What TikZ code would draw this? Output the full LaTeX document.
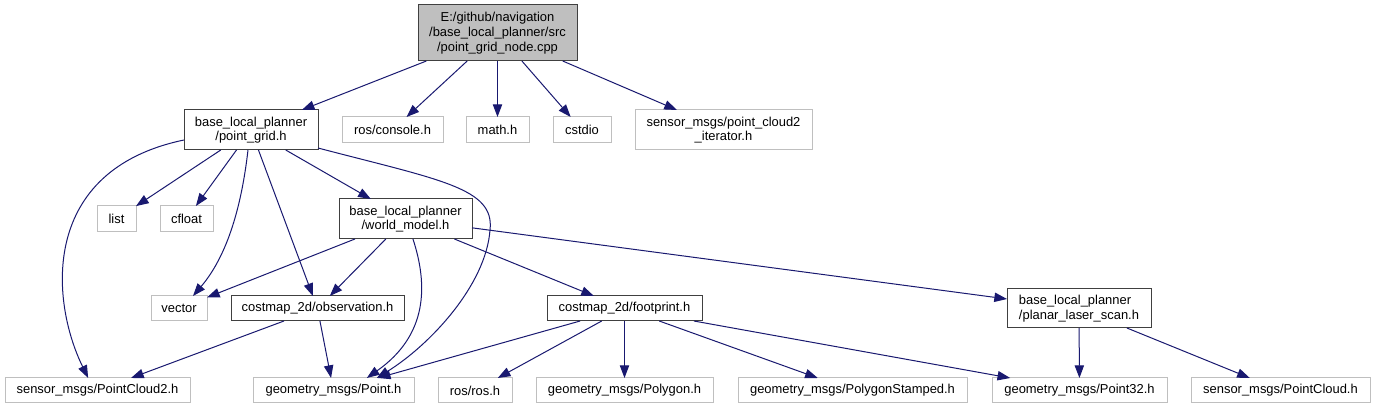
\documentclass[tikz,border=0pt]{standalone}
\usepackage{fontspec}
\setmainfont{Liberation Sans}
\usetikzlibrary{arrows.meta}
\definecolor{edgec}{HTML}{191970}
\definecolor{grayb}{HTML}{BFBFBF}
\definecolor{darkb}{HTML}{404040}
\definecolor{rootf}{HTML}{BFBFBF}
\begin{document}
\begin{tikzpicture}[x=0.75pt,y=-0.75pt,
 every node/.style={font=\fontsize{9.7}{11}\selectfont, inner sep=0pt, outer sep=0pt, align=center},
 wh/.style 2 args={minimum width=#1*0.75pt, minimum height=#2*0.75pt},
 ext/.style={draw=grayb, line width=0.75pt, fill=white},
 doc/.style={draw=darkb, line width=0.75pt, fill=white},
 rootbox/.style={draw=darkb, fill=rootf, line width=0.75pt},
 dep/.style={draw=edgec, line width=0.75pt, -{Triangle[length=9.5pt,width=7pt]}},
]
\useasboundingbox[fill=white] (0,0) rectangle (1375,409);

% nodes
\node[rootbox, wh={159}{56}] (root) at (497.5,33) {E:/github/navigation\\/base\_local\_planner/src\\/point\_grid\_node.cpp};
\node[doc, wh={134}{40}] (pg) at (251,130) {base\_local\_planner\\/point\_grid.h};
\node[ext, wh={101}{26}] (console) at (392.5,130) {ros/console.h};
\node[ext, wh={63}{26}] (math) at (497.5,130) {math.h};
\node[ext, wh={58}{26}] (cstdio) at (582,130) {cstdio};
\node[ext, wh={177}{40}] (iter) at (723.5,130) {sensor\_msgs/point\_cloud2\\\_iterator.h};
\node[ext, wh={39}{26}] (list) at (116.5,219) {list};
\node[ext, wh={53}{26}] (cfloat) at (186.5,219) {cfloat};
\node[doc, wh={133}{40}] (wm) at (405.5,219) {base\_local\_planner\\/world\_model.h};
\node[ext, wh={56}{25}] (vector) at (179,308.5) {vector};
\node[doc, wh={173}{25}] (obs) at (317.5,308.5) {costmap\_2d/observation.h};
\node[doc, wh={155}{25}] (fp) at (624.5,308.5) {costmap\_2d/footprint.h};
\node[doc, wh={144}{39}, align=left] (pls) at (1079,308.5) {base\_local\_planner\\/planar\_laser\_scan.h};
\node[ext, wh={185}{25}] (pc2) at (97.5,390.5) {sensor\_msgs/PointCloud2.h};
\node[ext, wh={161}{25}] (pt) at (333.5,390.5) {geometry\_msgs/Point.h};
\node[ext, wh={74}{25}] (ros) at (475,390.5) {ros/ros.h};
\node[ext, wh={177}{25}] (poly) at (624.5,390.5) {geometry\_msgs/Polygon.h};
\node[ext, wh={229}{25}] (polys) at (852.5,390.5) {geometry\_msgs/PolygonStamped.h};
\node[ext, wh={175}{25}] (p32) at (1079.5,390.5) {geometry\_msgs/Point32.h};
\node[ext, wh={179}{25}] (pc) at (1280.5,390.5) {sensor\_msgs/PointCloud.h};

% edges from root
\draw[dep] (root) -- (pg);
\draw[dep] (root) -- (console);
\draw[dep] (root) -- (math);
\draw[dep] (root) -- (cstdio);
\draw[dep] (root) -- (iter);

% edges from point_grid
\draw[dep] (pg) -- (list);
\draw[dep] (pg) -- (cfloat);
\draw[dep] (pg) -- (obs);
\draw[dep] (pg) -- (wm);
\draw[dep] ([xshift=-2.25pt]pg.south) .. controls (240,220) and (222,262) .. ([xshift=10.5pt]vector.north);
\draw[dep] ([yshift=-7.5pt]pg.west) .. controls (40,170) and (50,300) .. ([xshift=-7pt]pc2.north);
\draw[dep] ([yshift=1.5pt]pg.south east) .. controls (440,180) and (495,188) .. (490,230) .. controls (486,285) and (430,345) .. ([xshift=32.5pt]pt.north);

% edges from world_model
\draw[dep] (wm) -- (vector);
\draw[dep] (wm) -- (obs);
\draw[dep] (wm) -- (fp);
\draw[dep] (wm) -- (pls);
\draw[dep] ([xshift=5.6pt]wm.south) .. controls (428,285) and (428,335) .. ([xshift=25pt]pt.north);

% edges from observation
\draw[dep] (obs) -- (pc2);
\draw[dep] (obs) -- (pt);

% edges from footprint
\draw[dep] (fp) -- (pt);
\draw[dep] (fp) -- (ros);
\draw[dep] (fp) -- (poly);
\draw[dep] (fp) -- (polys);
\draw[dep] (fp) -- (p32);

% edges from planar_laser_scan
\draw[dep] (pls) -- (p32);
\draw[dep] (pls) -- (pc);
\end{tikzpicture}
\end{document}
